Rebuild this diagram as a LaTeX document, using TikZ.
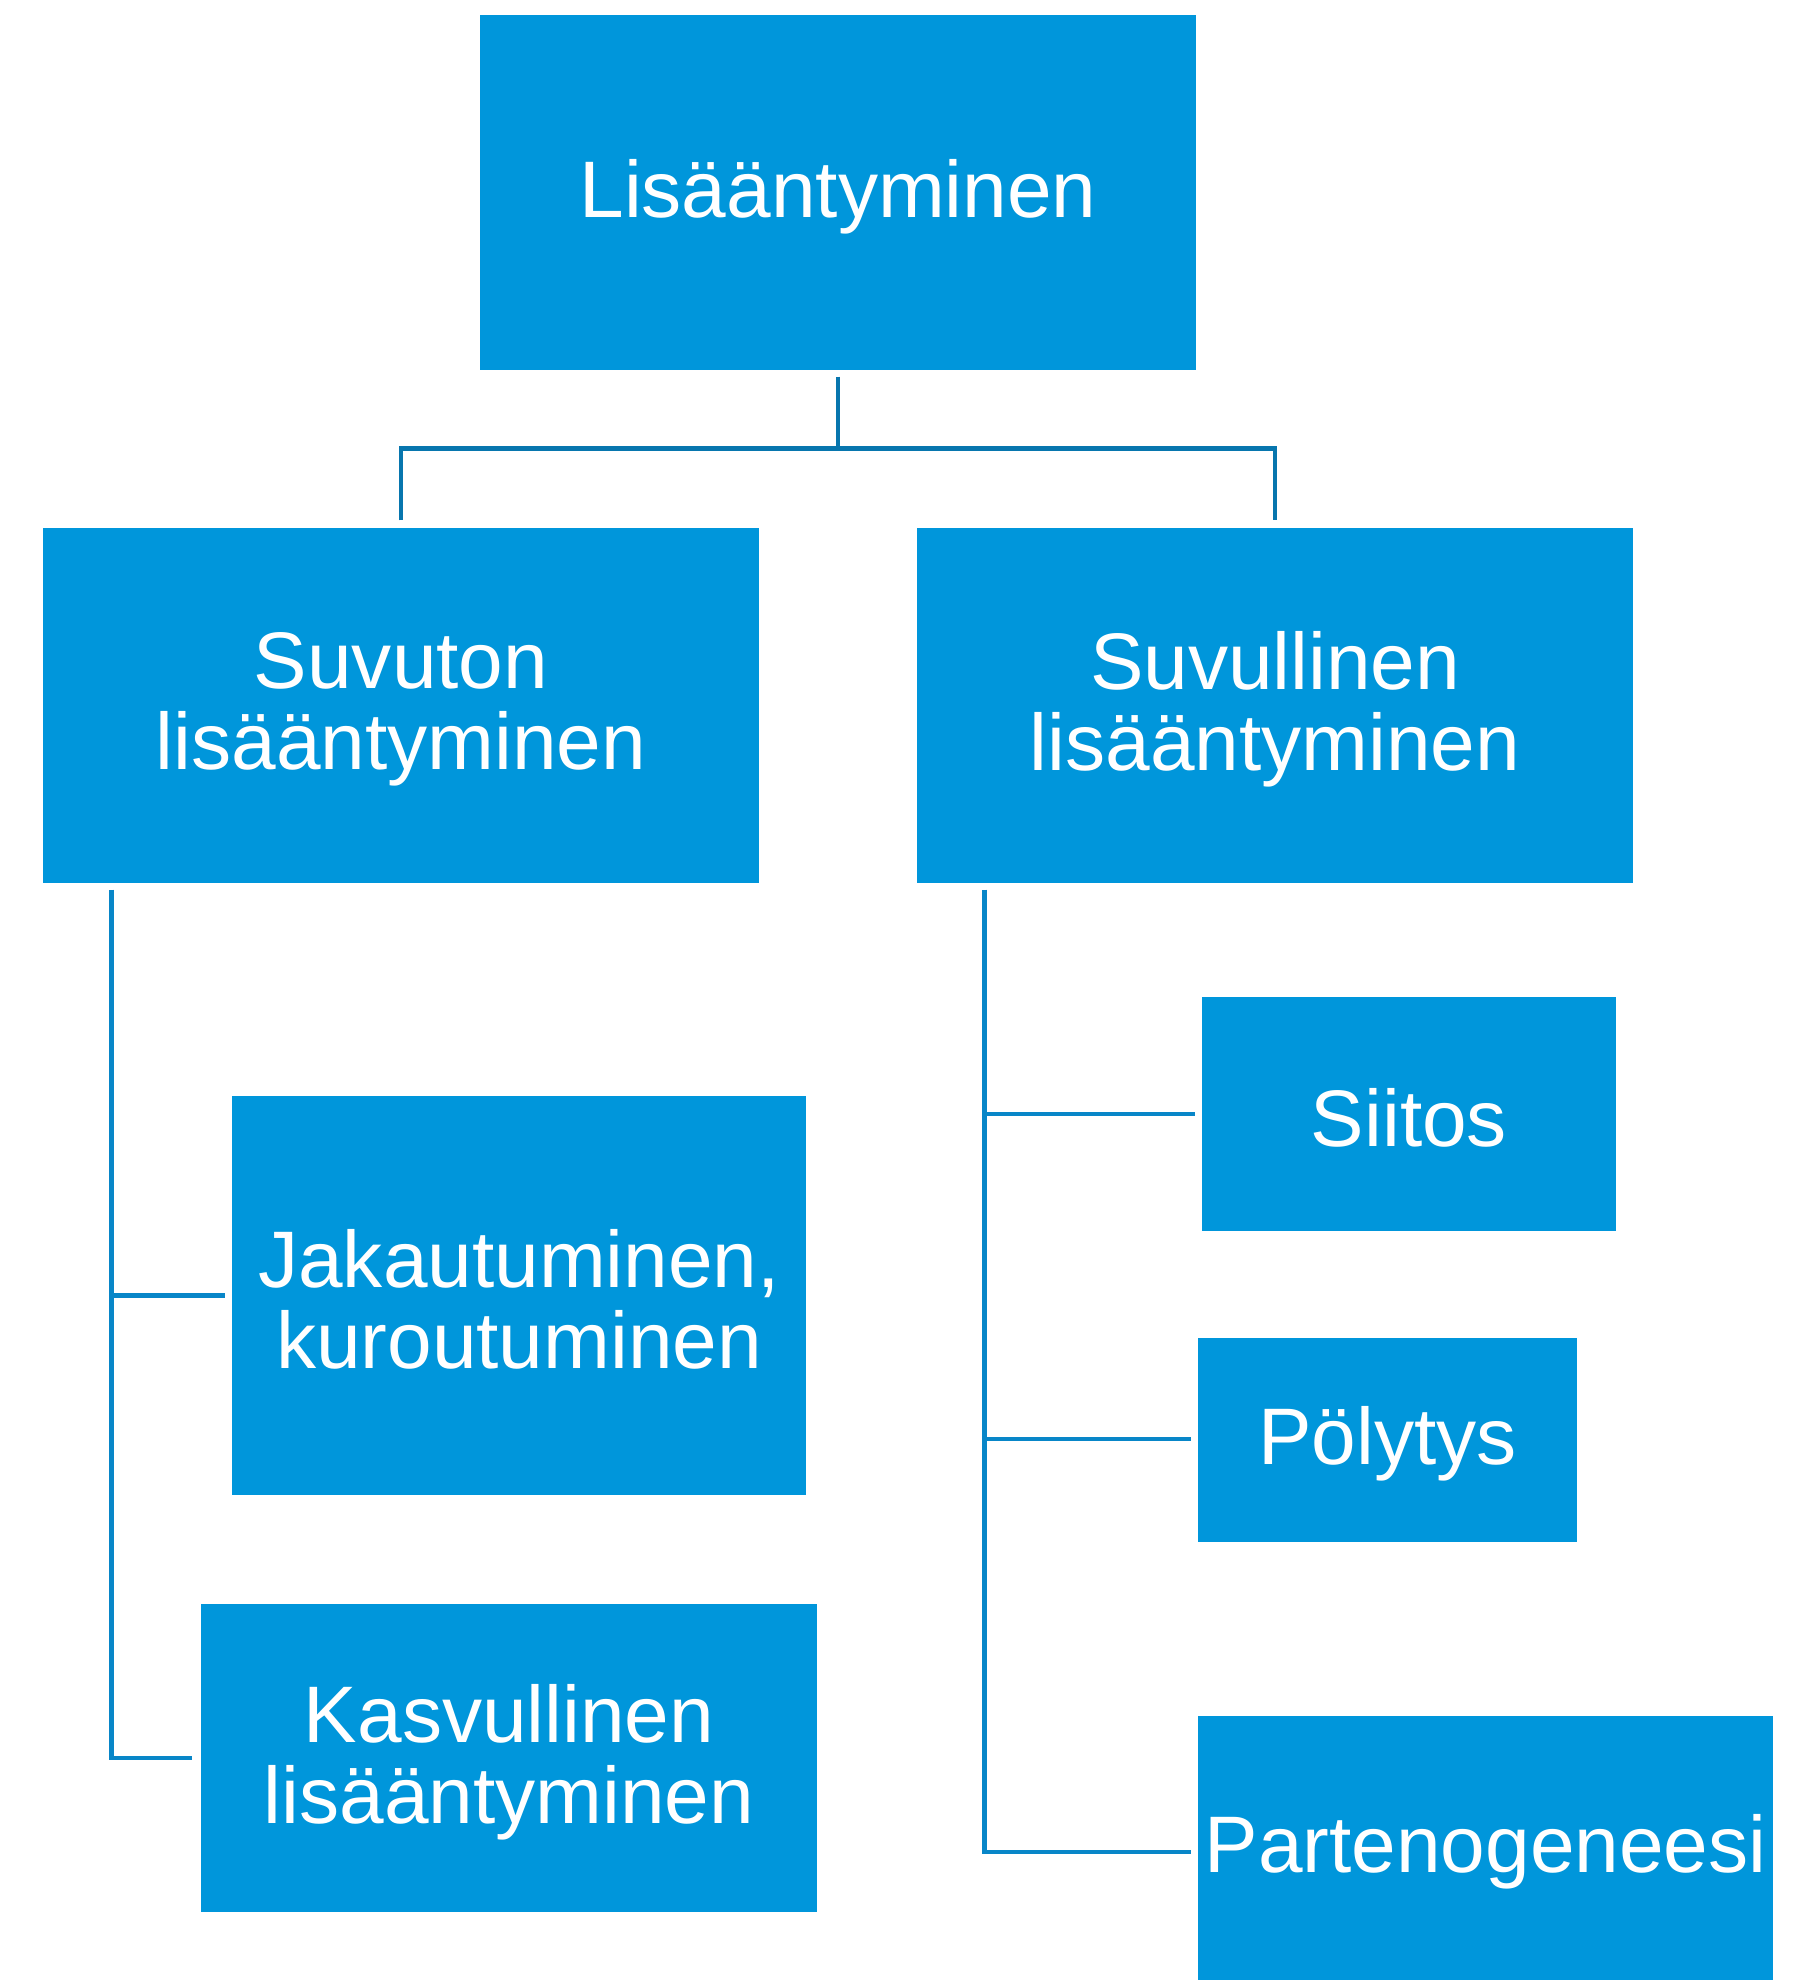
\documentclass[tikz,border=0pt]{standalone}
\usepackage{fontspec}
\setmainfont{Liberation Sans}
\usetikzlibrary{calc}
\definecolor{boxblue}{RGB}{0,150,219}
\definecolor{linetop}{RGB}{7,118,174}
\definecolor{lineside}{RGB}{8,134,200}
\begin{document}
\begin{tikzpicture}[x=0.01cm,y=-0.01cm,
  bluebox/.style={fill=boxblue,draw=none,inner sep=0pt},
  boxtext/.style={text=white,align=center,inner sep=0pt,yshift=-0.04cm,
    font=\fontsize{22.8}{23}\selectfont},
  toplink/.style={draw=linetop,line width=1.4pt},
  sidelink/.style={draw=lineside,line width=1.3pt}]
\useasboundingbox (0,0) rectangle (1803,1980);
% boxes
\node[bluebox,minimum width=716*0.01cm,minimum height=355*0.01cm,
  label={[boxtext]center:Lisääntyminen}] (top) at (838,192.5) {};
\node[bluebox,minimum width=716*0.01cm,minimum height=355*0.01cm,
  label={[boxtext]center:Suvuton\\lisääntyminen}] (suvuton) at (401,705.5) {};
\node[bluebox,minimum width=716*0.01cm,minimum height=355*0.01cm,
  label={[boxtext]center:Suvullinen\\lisääntyminen}] (suvullinen) at (1275,705.5) {};
\node[bluebox,minimum width=574*0.01cm,minimum height=399*0.01cm,
  label={[boxtext]center:{Jakautuminen,\\kuroutuminen}}] (jakau) at (519,1295.5) {};
\node[bluebox,minimum width=616*0.01cm,minimum height=308*0.01cm,
  label={[boxtext]center:Kasvullinen\\lisääntyminen}] (kasv) at (509,1758) {};
\node[bluebox,minimum width=414*0.01cm,minimum height=234*0.01cm,
  label={[boxtext]center:Siitos}] (siitos) at (1409,1114) {};
\node[bluebox,minimum width=379*0.01cm,minimum height=204*0.01cm,
  label={[boxtext]center:Pölytys}] (polytys) at (1387.5,1440) {};
\node[bluebox,minimum width=575*0.01cm,minimum height=264*0.01cm,
  label={[boxtext]center:Partenogeneesi}] (parteno) at (1485.5,1848) {};
% top connectors
\coordinate (tj) at ($(top.south)+(0,78)$);
\path[toplink] ($(top.south)+(0,6)$) -- (tj);
\path[toplink] ($(suvuton.north)+(0,-7)$) |- (tj) -| ($(suvullinen.north)+(0,-7)$);
% left connectors
\coordinate (ls) at ($(suvuton.south west)+(69,6)$);
\path[sidelink] (ls) |- ($(kasv.west)+(-8,0)$);
\path[sidelink] (ls |- jakau.west) -- ($(jakau.west)+(-6,0)$);
% right connectors
\coordinate (rs) at ($(suvullinen.south west)+(68,6)$);
\path[sidelink] (rs) |- ($(parteno.west)+(-6,4)$);
\path[sidelink] (rs |- siitos.west) -- ($(siitos.west)+(-6,0)$);
\path[sidelink] ($(rs |- polytys.west)+(0,-1)$) -- ($(polytys.west)+(-6,-1)$);
\end{tikzpicture}
\end{document}
